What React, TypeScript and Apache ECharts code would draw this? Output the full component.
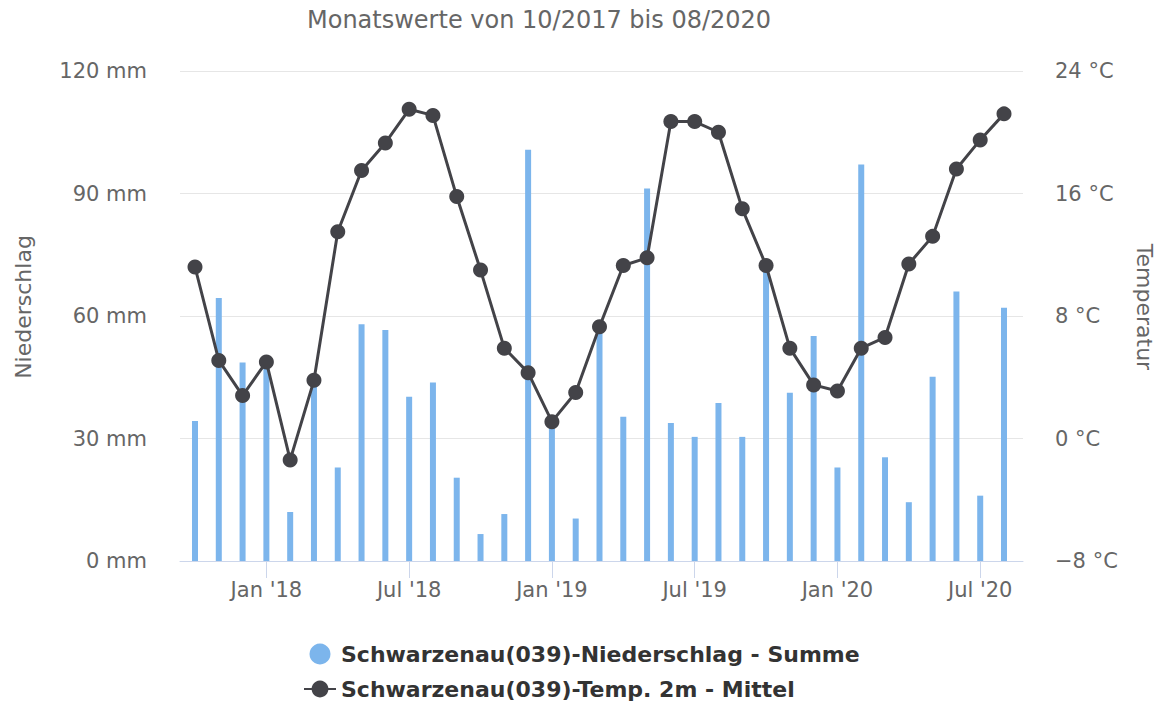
import React, { useEffect, useRef } from "react";
import * as echarts from "echarts";

const months = [
  "Okt '17", "Nov '17", "Dez '17",
  "Jan '18", "Feb '18", "Mär '18", "Apr '18", "Mai '18", "Jun '18", "Jul '18", "Aug '18", "Sep '18", "Okt '18", "Nov '18", "Dez '18",
  "Jan '19", "Feb '19", "Mär '19", "Apr '19", "Mai '19", "Jun '19", "Jul '19", "Aug '19", "Sep '19", "Okt '19", "Nov '19", "Dez '19",
  "Jan '20", "Feb '20", "Mär '20", "Apr '20", "Mai '20", "Jun '20", "Jul '20", "Aug '20",
];

const precipitation = [
  34.3, 64.4, 48.6, 47.5, 12.0, 43.5, 22.9, 58.0, 56.6, 40.2, 43.7, 20.4,
  6.6, 11.5, 100.7, 34.5, 10.4, 56.0, 35.3, 91.2, 33.8, 30.4, 38.7, 30.4,
  71.5, 41.2, 55.1, 22.9, 97.1, 25.4, 14.4, 45.1, 66.0, 16.0, 62.0,
];

const temperature = [
  11.2, 5.1, 2.8, 5.0, -1.4, 3.8, 13.5, 17.5, 19.3, 21.5, 21.1, 15.8,
  11.0, 5.9, 4.3, 1.1, 3.0, 7.3, 11.3, 11.8, 20.7, 20.7, 20.0, 15.0,
  11.3, 5.9, 3.5, 3.1, 5.9, 6.6, 11.4, 13.2, 17.6, 19.5, 21.2,
];

const precipName = "Schwarzenau(039)-Niederschlag - Summe";
const tempName = "Schwarzenau(039)-Temp. 2m - Mittel";
const titleText = "Monatswerte von 10/2017 bis 08/2020";
const leftAxisName = "Niederschlag";
const rightAxisName = "Temperatur";

const FONT = "DejaVu Sans";

export default function App() {
  const ref = useRef<HTMLDivElement>(null);

  useEffect(() => {
    if (!ref.current) return;
    const chart = echarts.init(ref.current, null, { renderer: "svg" });
    const showIdx = (i: number) => i % 6 === 3;
    chart.setOption({
      animation: false,
      backgroundColor: "#ffffff",
      textStyle: { fontFamily: FONT },
      title: {
        text: titleText,
        left: 307,
        top: 8,
        padding: 0,
        textStyle: { fontFamily: FONT, fontSize: 24, fontWeight: "normal", color: "#666666" },
      },
      legend: {
        orient: "vertical",
        left: 303,
        top: 643,
        padding: 0,
        itemWidth: 32,
        itemHeight: 21,
        itemGap: 13,
        textStyle: { fontFamily: FONT, fontSize: 22, fontWeight: "bold", color: "#333333" },
        data: [{ name: precipName, icon: "circle" }, { name: tempName }],
      },
      graphic: [
        {
          type: "text",
          x: 23,
          y: 307,
          rotation: Math.PI / 2,
          style: {
            text: leftAxisName,
            fill: "#666666",
            font: `22px "${FONT}"`,
            align: "center",
            verticalAlign: "middle",
          },
        },
        {
          type: "text",
          x: 1144,
          y: 307,
          rotation: -Math.PI / 2,
          style: {
            text: rightAxisName,
            fill: "#666666",
            font: `22px "${FONT}"`,
            align: "center",
            verticalAlign: "middle",
          },
        },
      ],
      grid: [
        { left: 180, right: 138, top: 71, bottom: 146, containLabel: false },
        { left: 183.1, right: 145.1, top: 71, bottom: 146, containLabel: false },
      ],
      xAxis: [
        {
          type: "value",
          gridIndex: 0,
          min: 0,
          max: 1,
          axisLine: { show: true, onZero: false, lineStyle: { color: "#ccd6eb", width: 1 } },
          axisTick: { show: false },
          axisLabel: { show: false },
          splitLine: { show: false },
        },
        {
          type: "category",
          gridIndex: 1,
          data: months,
          boundaryGap: true,
          axisLine: { show: false },
          axisTick: {
            show: true,
            alignWithLabel: true,
            interval: (i: number) => showIdx(i),
            length: 17,
            lineStyle: { color: "#ccd6eb" },
          },
          axisLabel: {
            interval: (i: number) => showIdx(i),
            color: "#666666",
            fontFamily: FONT,
            fontSize: 21,
            margin: 18,
          },
        },
      ],
      yAxis: [
        {
          type: "value",
          gridIndex: 0,
          min: 0,
          max: 120,
          interval: 30,
          axisLine: { show: false },
          axisTick: { show: false },
          axisLabel: {
            formatter: (v: number) => `${v} mm`,
            color: "#666666",
            fontFamily: FONT,
            fontSize: 21,
            margin: 33,
          },
          splitLine: { lineStyle: { color: "#e6e6e6", width: 1 } },
        },
        {
          type: "value",
          gridIndex: 0,
          min: -8,
          max: 24,
          interval: 8,
          position: "right",
          axisLine: { show: false },
          axisTick: { show: false },
          axisLabel: {
            formatter: (v: number) => `${v < 0 ? "\u2212" + Math.abs(v) : v} °C`,
            color: "#666666",
            fontFamily: FONT,
            fontSize: 21,
            margin: 32,
          },
          splitLine: { show: false },
        },
        {
          type: "value",
          gridIndex: 1,
          min: 0,
          max: 120,
          interval: 30,
          show: false,
          splitLine: { show: false },
        },
        {
          type: "value",
          gridIndex: 1,
          min: -8,
          max: 24,
          interval: 8,
          position: "right",
          show: false,
          splitLine: { show: false },
        },
      ],
      series: [
        {
          name: precipName,
          type: "bar",
          xAxisIndex: 1,
          yAxisIndex: 2,
          data: precipitation,
          barWidth: 6,
          itemStyle: { color: "#7cb5ec" },
          z: 2,
        },
        {
          name: tempName,
          type: "line",
          xAxisIndex: 1,
          yAxisIndex: 3,
          data: temperature,
          symbol: "circle",
          symbolSize: 15,
          itemStyle: { color: "#434348" },
          lineStyle: { color: "#434348", width: 3 },
          z: 3,
        },
      ],
    });
    return () => chart.dispose();
  }, []);

  return (
    <div
      ref={ref}
      style={{ position: "fixed", left: 0, top: 0, width: 1161, height: 707 }}
    />
  );
}
